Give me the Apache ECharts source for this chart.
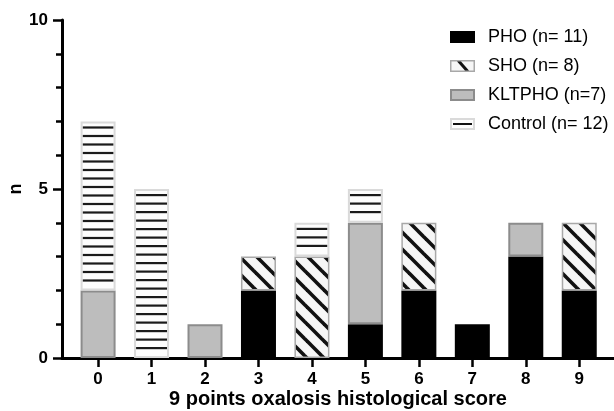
<!DOCTYPE html>
<html><head><meta charset="utf-8">
<script src="https://cdn.jsdelivr.net/npm/echarts@6.0.0/dist/echarts.min.js"></script>
<style>html,body{margin:0;padding:0;background:#fff}#c{width:614px;height:411px}</style>
</head><body><div id="c"></div>
<script>
// ---- data ----
const categories = ['0','1','2','3','4','5','6','7','8','9'];
const seriesNames = ['PHO (n= 11)','SHO (n= 8)','KLTPHO (n=7)','Control (n= 12)'];
const pho     = [0,0,0,2,0,1,2,1,3,2];
const sho     = [0,0,0,1,3,0,2,0,0,2];
const kltpho  = [2,0,1,0,0,3,0,0,1,0];
const control = [5,5,0,0,1,1,0,0,0,0];
const yTickValues = [0,5,10];
const xAxisTitle = '9 points oxalosis histological score';
const yAxisTitle = 'n';

const FONT = 'Liberation Sans, Arial, sans-serif';
const chart = echarts.init(document.getElementById('c'), null, {renderer:'canvas'});

// value first so that the stack runs on the "n" dimension
function toData(arr){ return arr.map((v,i)=> v ? [v, i] : ['-', i]); }

function diagTile(){
  const s = 17, c = document.createElement('canvas'); c.width = s; c.height = s;
  const g = c.getContext('2d');
  g.fillStyle = '#f6f6f6'; g.fillRect(0,0,s,s);
  g.strokeStyle = '#111'; g.lineWidth = 3.6;
  for (const o of [-s, 0, s]) { g.beginPath(); g.moveTo(o-3,-3); g.lineTo(o+s+3,s+3); g.stroke(); }
  return c;
}
function iconImg(kind){
  const w = 50, h = 24, c = document.createElement('canvas'); c.width = w; c.height = h;
  const g = c.getContext('2d');
  if (kind === 'pho'){ g.fillStyle='#000'; g.fillRect(0,0,w,h); }
  if (kind === 'klt'){ g.fillStyle='#8c8c8c'; g.fillRect(0,0,w,h); g.fillStyle='#bdbdbd'; g.fillRect(4,4,w-8,h-8); }
  if (kind === 'sho'){ g.fillStyle='#a8a8a8'; g.fillRect(0,0,w,h); g.fillStyle='#f6f6f6'; g.fillRect(3,3,w-6,h-6);
    g.save(); g.beginPath(); g.rect(3,3,w-6,h-6); g.clip(); g.strokeStyle='#111'; g.lineWidth=6;
    g.beginPath(); g.moveTo(12,-4); g.lineTo(40,28); g.stroke(); g.restore(); }
  if (kind === 'ctl'){ g.fillStyle='#dadada'; g.fillRect(0,0,w,h); g.fillStyle='#fdfdfd'; g.fillRect(4,4,w-8,h-8);
    g.fillStyle='#111'; g.fillRect(6,10,w-12,4); }
  return 'image://' + c.toDataURL();
}

const diag = diagTile();
function mkSeries(i, arr, itemStyle){
  return {name: seriesNames[i], type: 'bar', stack: 's', barWidth: 35,
    dimensions: ['n', 'score'], encode: {x: 'score', y: 'n'},
    data: toData(arr), itemStyle: itemStyle};
}
function baseOption(controlColor){
  return {
    animation: false,
    grid: {left: 62, top: 20, right: 0, bottom: 53, containLabel: false, outerBoundsMode: 'none'},
    legend: {
      orient: 'vertical', left: 445, top: 23, itemWidth: 25, itemHeight: 12, itemGap: 11,
      textStyle: {fontFamily: FONT, fontSize: 18, color: '#000', lineHeight: 18, padding: [0,0,0,8]},
      data: [
        {name: seriesNames[0], icon: iconImg('pho')},
        {name: seriesNames[1], icon: iconImg('sho')},
        {name: seriesNames[2], icon: iconImg('klt')},
        {name: seriesNames[3], icon: iconImg('ctl')}
      ],
      selectedMode: false
    },
    xAxis: {
      type: 'value', min: -0.675, max: 9.65,
      name: xAxisTitle, nameLocation: 'middle', nameGap: 31, nameMoveOverlap: false,
      nameTextStyle: {fontFamily: FONT, fontSize: 20, fontWeight: 'bold', color: '#000'},
      axisLine: {show: true, onZero: false, lineStyle: {color: '#000', width: 3}},
      axisTick: {show: true, length: 9, lineStyle: {color: '#000', width: 2.5}, customValues: categories.map((c,i)=>i)},
      axisLabel: {fontFamily: FONT, fontSize: 17, fontWeight: 'bold', color: '#000', margin: 13,
        customValues: categories.map((c,i)=>i), formatter: v => categories[Math.round(v)]},
      splitLine: {show: false}
    },
    yAxis: {
      type: 'value', min: 0, max: 10, interval: 5,
      name: yAxisTitle, nameLocation: 'middle', nameGap: 37, nameMoveOverlap: false,
      nameTextStyle: {fontFamily: FONT, fontSize: 18, fontWeight: 'bold', color: '#000'},
      axisLine: {show: true, onZero: false, lineStyle: {color: '#000', width: 3}},
      axisTick: {show: true, length: 9, lineStyle: {color: '#000', width: 2.5}},
      minorTick: {show: true, splitNumber: 5, length: 6, lineStyle: {color: '#000', width: 2.5}},
      axisLabel: {fontFamily: FONT, fontSize: 17, fontWeight: 'bold', color: '#000', margin: 14,
        formatter: v => yTickValues.indexOf(v) >= 0 ? String(v) : ''},
      splitLine: {show: false}, minorSplitLine: {show: false}
    },
    series: [
      mkSeries(0, pho, {color: '#000', borderColor: '#000', borderWidth: 0}),
      mkSeries(1, sho, {color: {image: diag, repeat: 'repeat'}, borderColor: '#a8a8a8', borderWidth: 1.5}),
      mkSeries(2, kltpho, {color: '#bdbdbd', borderColor: '#8c8c8c', borderWidth: 2}),
      mkSeries(3, control, {color: controlColor, borderColor: '#dadada', borderWidth: 2})
    ]
  };
}
chart.setOption(baseOption('#fdfdfd'));

// horizontal-line fill for the Control bars, aligned through the chart's own scales
const W = 614, H = 411;
const cv = document.createElement('canvas'); cv.width = W; cv.height = H;
const g = cv.getContext('2d');
g.fillStyle = '#fdfdfd'; g.fillRect(0,0,W,H);
g.fillStyle = '#1a1a1a';
categories.forEach((c,i)=>{
  if (!control[i]) return;
  const base = pho[i] + sho[i] + kltpho[i];
  const top = base + control[i];
  const pTop = chart.convertToPixel({gridIndex:0}, [i, top]);
  const pBot = chart.convertToPixel({gridIndex:0}, [i, base]);
  const cx = pTop[0];
  for (let y = pTop[1] + 6; y < pBot[1] - 4; y += 8.5) {
    g.fillRect(cx - 15.5, y - 1, 31, 2.2);
  }
});
chart.setOption({series: [{}, {}, {}, {itemStyle: {color: {image: cv, repeat: 'no-repeat'}}}]});
</script>
</body></html>
